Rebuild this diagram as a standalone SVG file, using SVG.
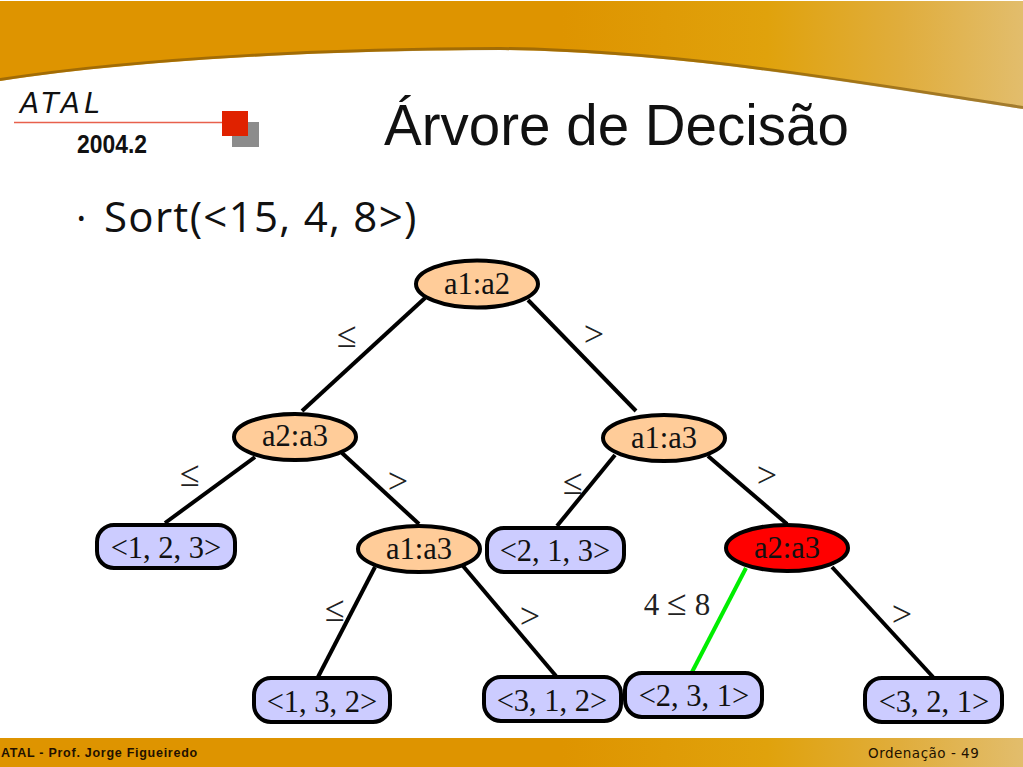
<svg xmlns="http://www.w3.org/2000/svg" width="1023" height="767" viewBox="0 0 1023 767">
<style>
.c{stroke:#000;stroke-width:4;fill:none;stroke-linecap:butt}
.e{fill:#fc9;stroke:#000;stroke-width:4}
.r{fill:#ccf;stroke:#000;stroke-width:4}
.t{font-family:"Liberation Serif",serif;font-size:30.500px;text-anchor:middle;fill:#111}
.l{font-family:"Liberation Serif",serif;font-size:36px;text-anchor:middle;fill:#222}
.m{font-family:"Liberation Serif",serif;font-size:31px;text-anchor:middle;fill:#222}
</style>
<defs>
<linearGradient id="g" x1="0" x2="1" y1="0" y2="0">
<stop offset="0" stop-color="#de9400"/><stop offset=".55" stop-color="#de9400"/><stop offset=".75" stop-color="#e0a20c"/><stop offset=".88" stop-color="#e0ad3c"/><stop offset="1" stop-color="#e2bd6c"/>
</linearGradient>
</defs>
<rect width="1023" height="767" fill="#fff"/>
<path d="M0 81C150 58 350 50 500 50C680 52 860 84 1023 109V1H0Z" fill="url(#g)"/>
<path d="M0 81C150 58 350 50 500 50C680 52 860 84 1023 109" fill="none" stroke="#7a5208" stroke-opacity=".6" stroke-width="3" transform="translate(0 -1.500)"/>
<rect y="738" width="1023" height="29" fill="url(#g)"/>
<text x="20" y="113" font-family="'DejaVu Sans',sans-serif" font-style="italic" font-size="28" letter-spacing="4.500" fill="#111">ATAL</text>
<path d="M14 122.500H222" stroke="#e8604c" stroke-width="1.500"/>
<rect x="232" y="122" width="27" height="25" fill="#8c8c8c"/>
<rect x="222" y="111" width="26" height="25" fill="#e02200"/>
<text x="112" y="153" font-family="'Liberation Sans',sans-serif" font-weight="bold" font-size="25" text-anchor="middle" textLength="70" lengthAdjust="spacingAndGlyphs" fill="#111">2004.2</text>
<text x="616.500" y="145" font-family="'Liberation Sans',sans-serif" font-size="56.500" text-anchor="middle" fill="#111">Árvore de Decisão</text>
<text x="76" y="232" font-family="'Open Sans',sans-serif" font-size="40" fill="#111">·</text>
<text x="104" y="232" font-family="'Open Sans',sans-serif" font-size="42" letter-spacing="1.300" fill="#111">Sort(&lt;15, 4, 8&gt;)</text>
<text x="1" y="757" font-family="'Liberation Sans',sans-serif" font-weight="bold" font-size="12.500" letter-spacing=".73" fill="#221100">ATAL - Prof. Jorge Figueiredo</text>
<text x="868" y="758" font-family="'DejaVu Sans',sans-serif" font-size="13.500" letter-spacing=".5" fill="#221100">Ordenação - 49</text>
<g id="connectors">
<path class="c" d="M425 298L302 411"/><path class="c" d="M528 300L636 411"/>
<path class="c" d="M255 457L165 523"/><path class="c" d="M342 453L419 524"/>
<path class="c" d="M615 455L557 526"/><path class="c" d="M708 456L787 524"/>
<path class="c" d="M375 567L318 677"/><path class="c" d="M463 566L556 676"/>
<path class="c" d="M746 568L691 674" style="stroke:#0e0"/><path class="c" d="M832 567L933 677"/>
</g>
<g id="edge-labels">
<text class="l" x="347" y="347">≤</text><text class="l" x="594" y="346">&gt;</text>
<text class="l" x="190" y="486">≤</text><text class="l" x="398" y="493">&gt;</text>
<text class="l" x="573" y="494">≤</text><text class="l" x="767" y="487">&gt;</text>
<text class="l" x="335" y="621">≤</text><text class="l" x="530" y="628">&gt;</text>
<text class="m" x="677" y="615">4 <tspan font-size="36">≤</tspan> 8</text><text class="l" x="902" y="626">&gt;</text>
</g>
<g id="n1"><ellipse class="e" cx="477" cy="284" rx="61" ry="23.500"/><text class="t" x="477" y="294">a1:a2</text></g>
<g id="n2"><ellipse class="e" cx="295" cy="437" rx="61" ry="23"/><text class="t" x="295" y="446">a2:a3</text></g>
<g id="n3"><ellipse class="e" cx="664" cy="438" rx="61" ry="23"/><text class="t" x="664" y="448">a1:a3</text></g>
<g id="n4"><rect class="r" x="97" y="525" width="138" height="43" rx="17"/><text class="t" x="166" y="558">&lt;1, 2, 3&gt;</text></g>
<g id="n5"><ellipse class="e" cx="419" cy="549" rx="61" ry="23"/><text class="t" x="419" y="559">a1:a3</text></g>
<g id="n6"><rect class="r" x="487" y="528" width="137" height="44" rx="17"/><text class="t" x="555" y="561">&lt;2, 1, 3&gt;</text></g>
<g id="n7"><ellipse style="fill:#f00" class="e" cx="787" cy="548" rx="61" ry="23"/><text class="t" x="787" y="558">a2:a3</text></g>
<g id="n8"><rect class="r" x="254" y="678" width="136" height="44" rx="17"/><text class="t" x="322" y="712">&lt;1, 3, 2&gt;</text></g>
<g id="n9"><rect class="r" x="484" y="677" width="137" height="44" rx="17"/><text class="t" x="552" y="711">&lt;3, 1, 2&gt;</text></g>
<g id="n10"><rect class="r" x="625" y="673" width="137" height="44" rx="17"/><text class="t" x="694" y="706">&lt;2, 3, 1&gt;</text></g>
<g id="n11"><rect class="r" x="865" y="678" width="137" height="44" rx="17"/><text class="t" x="934" y="712">&lt;3, 2, 1&gt;</text></g>
</svg>
